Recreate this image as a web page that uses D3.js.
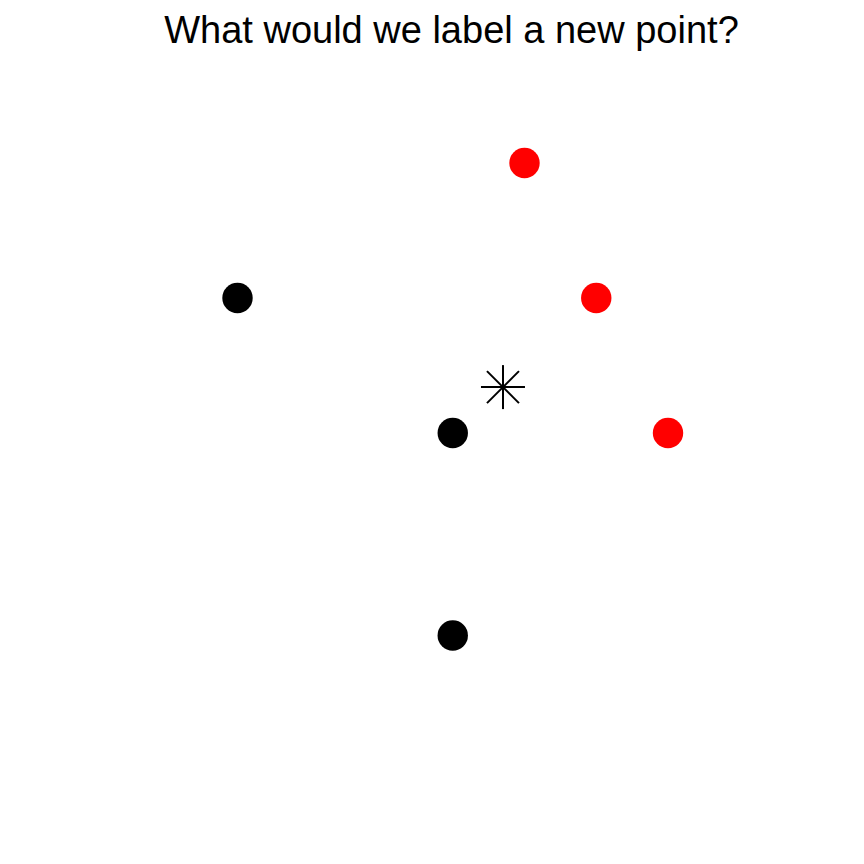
<!DOCTYPE html>
<html>
<head>
<meta charset="utf-8">
<script src="https://cdn.jsdelivr.net/npm/d3@7"></script>
<style>
  body { margin: 0; background: #fff; }
  svg { display: block; }
</style>
</head>
<body>
<svg id="chart"></svg>
<script>
// training points
const xs = [1, 4, 4, 5, 6, 7];
const ys = [3, 2, 0.5, 4, 3, 2];
const labels = ["black", "black", "black", "red", "red", "red"];
// the new point to classify
const newX = [4.7];
const newY = [2.34];

const W = 864, H = 864;

const svg = d3.select("#chart")
  .attr("width", W)
  .attr("height", H);

// scales (axes hidden, like plot(..., axes = FALSE))
const x = d3.scaleLinear([1, 7], [237.5, 668]);
const y = d3.scaleLinear([0.5, 4], [635.5, 163]);
const color = d3.scaleOrdinal(["black", "red"], ["#000000", "#ff0000"]);

// title
svg.append("text")
  .attr("x", 451.5)
  .attr("y", 43)
  .attr("text-anchor", "middle")
  .attr("font-family", "Liberation Sans, Arial, sans-serif")
  .attr("font-size", 38)
  .text("What would we label a new point?");

// points
svg.selectAll("circle")
  .data(xs.map((d, i) => ({ x: d, y: ys[i], label: labels[i] })))
  .enter().append("circle")
    .attr("cx", d => x(d.x))
    .attr("cy", d => y(d.y))
    .attr("r", 15.2)
    .attr("fill", d => color(d.label));

// asterisk (pch = 8)
const star = svg.selectAll("g.star")
  .data(newX.map((d, i) => ({ x: d, y: newY[i] })))
  .enter().append("g")
    .attr("class", "star")
    .attr("transform", d => `translate(${x(d.x)},${y(d.y)})`);

const s = 22, dg = 16;
[[-s, 0, s, 0], [0, -s, 0, s], [-dg, -dg, dg, dg], [-dg, dg, dg, -dg]].forEach(l => {
  star.append("line")
    .attr("x1", l[0]).attr("y1", l[1])
    .attr("x2", l[2]).attr("y2", l[3])
    .attr("stroke", "#000")
    .attr("stroke-width", 2);
});
</script>
</body>
</html>
